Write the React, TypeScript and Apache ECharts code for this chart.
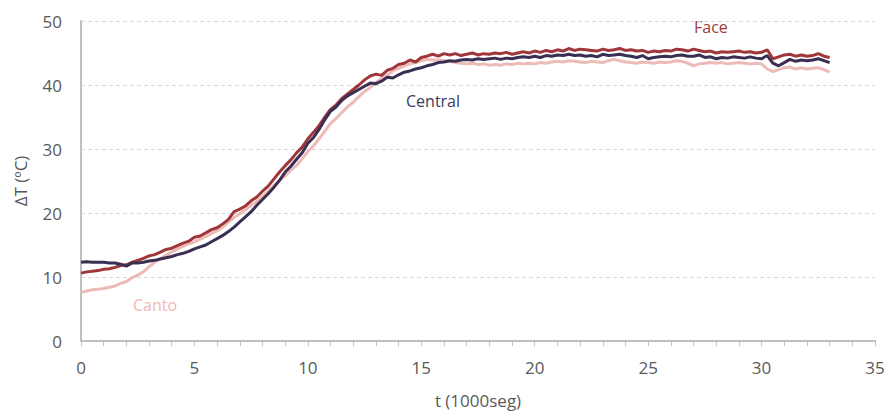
import React, { useEffect, useRef } from "react";
import * as echarts from "echarts";

const tKs = [
  0, 0.25, 0.5, 0.75, 1, 1.25, 1.5, 1.75, 2, 2.25, 2.5, 2.75, 3, 3.25, 3.5, 3.75,
  4, 4.25, 4.5, 4.75, 5, 5.25, 5.5, 5.75, 6, 6.25, 6.5, 6.75, 7, 7.25, 7.5, 7.75,
  8, 8.25, 8.5, 8.75, 9, 9.25, 9.5, 9.75, 10, 10.25, 10.5, 10.75, 11, 11.25, 11.5, 11.75,
  12, 12.25, 12.5, 12.75, 13, 13.25, 13.5, 13.75, 14, 14.25, 14.5, 14.75, 15, 15.25, 15.5, 15.75,
  16, 16.25, 16.5, 16.75, 17, 17.25, 17.5, 17.75, 18, 18.25, 18.5, 18.75, 19, 19.25, 19.5, 19.75,
  20, 20.25, 20.5, 20.75, 21, 21.25, 21.5, 21.75, 22, 22.25, 22.5, 22.75, 23, 23.25, 23.5, 23.75,
  24, 24.25, 24.5, 24.75, 25, 25.25, 25.5, 25.75, 26, 26.25, 26.5, 26.75, 27, 27.25, 27.5, 27.75,
  28, 28.25, 28.5, 28.75, 29, 29.25, 29.5, 29.75, 30, 30.25, 30.5, 30.75, 31, 31.25, 31.5, 31.75,
  32, 32.25, 32.5, 32.75, 33,
];

const face = [
  10.6, 10.8, 10.9, 11.0, 11.2, 11.3, 11.5, 11.8, 11.9, 12.3, 12.6, 12.9, 13.3, 13.5, 13.9, 14.3,
  14.5, 14.9, 15.3, 15.6, 16.2, 16.4, 16.9, 17.4, 17.7, 18.3, 19.0, 20.2, 20.6, 21.1, 21.9, 22.5,
  23.4, 24.2, 25.3, 26.4, 27.4, 28.3, 29.4, 30.3, 31.6, 32.6, 33.7, 35.0, 36.2, 36.9, 37.9, 38.6,
  39.3, 40.0, 40.8, 41.4, 41.7, 41.5, 42.3, 42.6, 43.2, 43.4, 43.9, 43.6, 44.3, 44.5, 44.8, 44.5,
  44.9, 44.7, 44.9, 44.6, 44.8, 45.0, 44.7, 44.9, 44.8, 45.0, 44.9, 45.1, 44.8, 45.0, 45.2, 45.0,
  45.3, 45.1, 45.4, 45.2, 45.5, 45.3, 45.7, 45.4, 45.6, 45.5, 45.4, 45.3, 45.6, 45.4, 45.5, 45.7,
  45.4, 45.5, 45.3, 45.4, 45.1, 45.3, 45.2, 45.4, 45.3, 45.6, 45.5, 45.3, 45.6, 45.4, 45.2, 45.3,
  45.0, 45.2, 45.1, 45.2, 45.3, 45.1, 45.2, 45.0, 45.1, 45.5, 44.1, 44.4, 44.7, 44.8, 44.5, 44.7,
  44.5, 44.6, 44.9, 44.5, 44.3,
];

const central = [
  12.3, 12.4, 12.3, 12.3, 12.3, 12.2, 12.2, 12.0, 11.7, 12.2, 12.2, 12.3, 12.5, 12.6, 12.8, 13.0,
  13.2, 13.5, 13.7, 14.0, 14.4, 14.7, 15.0, 15.5, 16.0, 16.5, 17.1, 17.8, 18.6, 19.4, 20.2, 21.2,
  22.1, 23.0, 24.0, 25.1, 26.4, 27.3, 28.4, 29.4, 30.9, 31.8, 33.1, 34.6, 35.9, 36.6, 37.6, 38.3,
  38.8, 39.3, 39.8, 40.3, 40.2, 40.6, 41.2, 41.1, 41.6, 42.0, 42.2, 42.5, 42.7, 43.0, 43.2, 43.5,
  43.6, 43.8, 43.7, 43.9, 44.0, 43.9, 44.1, 44.0, 44.1, 44.2, 44.0, 44.2, 44.1, 44.3, 44.4, 44.3,
  44.5, 44.3, 44.6, 44.5, 44.7, 44.6, 44.8, 44.6, 44.7, 44.5, 44.6, 44.4, 44.8, 44.6, 44.7, 44.8,
  44.6, 44.5, 44.3, 44.6, 44.1, 44.3, 44.4, 44.5, 44.4, 44.6, 44.7, 44.5, 44.5, 44.7, 44.3, 44.4,
  44.1, 44.3, 44.2, 44.4, 44.3, 44.2, 44.4, 44.2, 44.1, 44.6, 43.4, 43.0, 43.5, 44.0, 43.7, 43.9,
  43.8, 43.9, 44.1, 43.8, 43.5,
];

const canto = [
  7.6, 7.8, 8.0, 8.1, 8.2, 8.4, 8.6, 9.0, 9.3, 9.9, 10.3, 10.8, 11.6, 12.3, 12.9, 13.4,
  13.9, 14.4, 14.8, 15.2, 15.5, 15.9, 16.3, 16.8, 17.2, 17.8, 18.6, 19.3, 19.9, 20.5, 21.2, 21.8,
  22.6, 23.4, 24.3, 25.1, 25.8, 26.7, 27.4, 28.5, 29.6, 30.5, 31.6, 32.8, 34.0, 34.8, 35.7, 36.6,
  37.3, 38.2, 39.0, 39.6, 40.4, 41.0, 41.5, 42.2, 42.6, 43.0, 43.3, 43.5, 43.8, 44.0, 43.9, 43.9,
  43.8, 43.7, 43.5, 43.4, 43.3, 43.4, 43.2, 43.3, 43.1, 43.2, 43.1, 43.3, 43.2, 43.4, 43.3, 43.4,
  43.3, 43.5, 43.4, 43.6, 43.7, 43.6, 43.8, 43.7, 43.6, 43.5, 43.7, 43.6, 43.5, 43.8, 44.0, 43.8,
  43.6, 43.5, 43.4, 43.6, 43.5, 43.4, 43.6, 43.5, 43.6, 43.8, 43.7, 43.4, 43.0, 43.3, 43.4, 43.5,
  43.4, 43.5, 43.3, 43.4, 43.5, 43.4, 43.3, 43.4, 43.3, 42.5, 42.1, 42.4, 42.7, 42.8, 42.5, 42.7,
  42.5, 42.6, 42.7, 42.4, 42.0,
];

const seriesNames = ["Canto", "Face", "Central"];
const seriesColors = ["#ecbab7", "#a0353a", "#3a2f52"];
const labelColors = ["#efb8b4", "#a3393c", "#3c3b5c"];

const FONT = "'Open Sans', 'Noto Sans', sans-serif";

export default function App() {
  const ref = useRef<HTMLDivElement>(null);
  useEffect(() => {
    if (!ref.current) return;
    const chart = echarts.init(ref.current, undefined, { renderer: "svg" });
    const datasets = [canto, face, central];
    chart.setOption({
      animation: false,
      backgroundColor: "#ffffff",
      grid: { left: 81, right: 13, top: 21, bottom: 67, containLabel: false },
      xAxis: {
        type: "value",
        min: 0,
        max: 35,
        interval: 5,
        name: "t (1000seg)",
        nameLocation: "middle",
        nameGap: 51,
        nameTextStyle: { color: "#595959", fontSize: 17, fontFamily: FONT },
        axisLine: { show: true, lineStyle: { color: "#c0c0c0", width: 2 } },
        axisTick: { show: true, length: 5, lineStyle: { color: "#c0c0c0", width: 1 } },
        minorTick: { show: true, splitNumber: 5, length: 5, lineStyle: { color: "#c0c0c0", width: 1 } },
        axisLabel: { color: "#595959", fontSize: 17, fontFamily: FONT, margin: 18 },
        splitLine: { show: false },
      },
      yAxis: {
        type: "value",
        min: 0,
        max: 50,
        interval: 10,
        name: "ΔT (ºC)",
        nameLocation: "middle",
        nameGap: 52,
        nameRotate: 90,
        nameTextStyle: { color: "#595959", fontSize: 17, fontFamily: FONT },
        axisLine: { show: true, lineStyle: { color: "#c0c0c0", width: 2 } },
        axisTick: { show: false },
        axisLabel: { color: "#595959", fontSize: 17, fontFamily: FONT, margin: 19 },
        splitLine: { show: true, lineStyle: { color: "#d9d9d9", type: [4, 3], width: 1 } },
      },
      series: seriesNames.map((name, i) => ({
        name,
        type: "line",
        data: tKs.map((t, j) => [t, datasets[i][j]]),
        showSymbol: false,
        symbol: "none",
        lineStyle: { color: seriesColors[i], width: 3 },
        z: 2 + i,
      })),
      graphic: [
        { type: "text", left: 694, top: 19, style: { text: "Face", fill: labelColors[1], fontSize: 16, fontFamily: FONT } },
        { type: "text", left: 406, top: 93, style: { text: "Central", fill: labelColors[2], fontSize: 16, fontFamily: FONT } },
        { type: "text", left: 133, top: 297, style: { text: "Canto", fill: labelColors[0], fontSize: 16, fontFamily: FONT } },
      ],
    });
    return () => chart.dispose();
  }, []);
  return <div ref={ref} style={{ width: 888, height: 414, position: "absolute", left: 0, top: 0 }} />;
}
